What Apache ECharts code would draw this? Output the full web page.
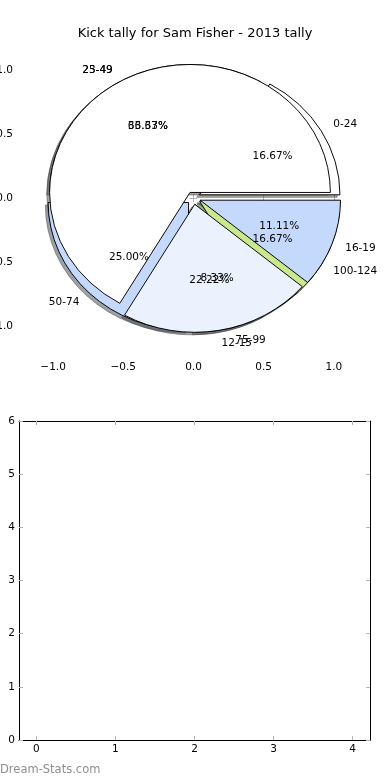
<!DOCTYPE html>
<html><head><meta charset="utf-8">
<script src="https://cdn.jsdelivr.net/npm/echarts@6/dist/echarts.min.js"></script>
<style>html,body{margin:0;padding:0;background:#fff}#c{width:390px;height:780px}</style>
</head><body><div id="c"></div>
<script>
// ---- data ----
const titleText = 'Kick tally for Sam Fisher - 2013 tally';
const pieALabels = ['0-24', '25-49', '50-74', '75-99', '100-124'];
const pieAValues = [2, 4, 3, 1, 2];
const pieBLabels = ['23-49', '12-15', '16-19'];
const pieBValues = [6, 2, 1];
const pieTicks = [-1, -0.5, 0, 0.5, 1];
const barXTicks = [0, 1, 2, 3, 4];
const barYTicks = [0, 1, 2, 3, 4, 5, 6];
const watermarkText = 'Dream-Stats.com';

// ---- styles ----
const pieAColors = ['#ffffff', '#ebf2fe', '#c5d9fd', '#ebf2fe', '#cbe88e'];
const pieBColors = ['#ffffff', '#ebf2fe', '#c5d9fd'];
const EXPLODE = 0.05;
const SHADOW = -0.02;
const FONT = 'DejaVu Sans';
const FS = 10.5;

function buildWedges(labels, values, colors) {
  const total = values.reduce((a, b) => a + b, 0);
  let cum = 0;
  return values.map((v, i) => {
    const t1 = cum / total * 360; cum += v; const t2 = cum / total * 360;
    const mid = (t1 + t2) / 2 * Math.PI / 180;
    return { t1, t2, mid, ox: EXPLODE * Math.cos(mid), oy: EXPLODE * Math.sin(mid),
      color: colors[i], label: labels[i], pct: (v / total * 100).toFixed(2) + '%' };
  });
}
const wedgesA = buildWedges(pieALabels, pieAValues, pieAColors);
const wedgesB = buildWedges(pieBLabels, pieBValues, pieBColors);
const allWedges = wedgesA.concat(wedgesB);

function shadowColor(hex) {
  const r = parseInt(hex.slice(1, 3), 16), g = parseInt(hex.slice(3, 5), 16), b = parseInt(hex.slice(5, 7), 16);
  return 'rgba(' + Math.round(r * 0.3) + ',' + Math.round(g * 0.3) + ',' + Math.round(b * 0.3) + ',0.5)';
}

function sector(w, api, dx, dy, style) {
  const c = api.coord([w.ox + dx, w.oy + dy]);
  const s = api.size([1, 1]);
  return {
    type: 'sector', x: c[0], y: c[1], scaleX: 1, scaleY: s[1] / s[0],
    shape: { cx: 0, cy: 0, r0: 0, r: s[0], startAngle: -w.t1 * Math.PI / 180, endAngle: -w.t2 * Math.PI / 180, clockwise: false },
    style: Object.assign({ strokeNoScale: true }, style)
  };
}

function wedgeSeries(list, z) {
  return {
    type: 'custom', xAxisIndex: 0, yAxisIndex: 0, z: z, silent: true, clip: false,
    data: list.map(() => [0, 0]),
    renderItem: (params, api) => {
      const w = list[params.dataIndex];
      return sector(w, api, 0, 0, { fill: w.color, stroke: '#000', lineWidth: 1 });
    }
  };
}

const chart = echarts.init(document.getElementById('c'), null, { renderer: 'canvas' });

const tickStyle = { show: true, inside: true, length: 4, lineStyle: { color: '#b4b4b4', width: 1 } };
const labelStyle = { color: '#000', fontSize: FS, fontFamily: FONT };
const fmt1 = v => v.toFixed(1).replace('-', '\u2212');

const option = {
  animation: false,
  backgroundColor: '#fff',
  title: { text: titleText, left: 'center', top: 22, textStyle: { fontSize: 13, fontWeight: 'normal', fontFamily: FONT, color: '#000' } },
  graphic: [{ type: 'text', left: 0, top: 764, style: { text: watermarkText, fontSize: 11.5, fontFamily: FONT, fill: '#8e8e8e' } }],
  grid: [
    { left: 18, top: 38, width: 351, height: 320, containLabel: false, outerBoundsMode: 'none' },
    { left: 19, top: 421, width: 351, height: 319, containLabel: false, outerBoundsMode: 'none' }
  ],
  xAxis: [
    { gridIndex: 0, type: 'value', min: -1.25, max: 1.25, position: 'bottom', axisLine: { show: false },
      splitLine: { show: false }, axisTick: Object.assign({ customValues: pieTicks }, tickStyle),
      axisLabel: Object.assign({ customValues: pieTicks, formatter: fmt1, margin: 4 }, labelStyle) },
    { gridIndex: 0, type: 'value', min: -1.25, max: 1.25, position: 'top', axisLine: { show: false },
      splitLine: { show: false }, axisTick: Object.assign({ customValues: pieTicks }, tickStyle), axisLabel: { show: false } },
    { gridIndex: 1, type: 'value', min: -0.22, max: 4.22, position: 'bottom',
      axisLine: { show: true, onZero: false, lineStyle: { color: '#000', width: 1 } },
      splitLine: { show: false }, axisTick: Object.assign({ customValues: barXTicks }, tickStyle),
      axisLabel: Object.assign({ customValues: barXTicks, margin: 4, formatter: v => String(v) }, labelStyle) },
    { gridIndex: 1, type: 'value', min: -0.22, max: 4.22, position: 'top',
      axisLine: { show: true, onZero: false, lineStyle: { color: '#000', width: 1 } },
      splitLine: { show: false }, axisTick: Object.assign({ customValues: barXTicks }, tickStyle), axisLabel: { show: false } }
  ],
  yAxis: [
    { gridIndex: 0, type: 'value', min: -1.25, max: 1.25, position: 'left', axisLine: { show: false },
      splitLine: { show: false }, axisTick: Object.assign({ customValues: pieTicks }, tickStyle),
      axisLabel: Object.assign({ customValues: pieTicks, formatter: fmt1, margin: 5 }, labelStyle) },
    { gridIndex: 0, type: 'value', min: -1.25, max: 1.25, position: 'right', axisLine: { show: false },
      splitLine: { show: false }, axisTick: Object.assign({ customValues: pieTicks }, tickStyle), axisLabel: { show: false } },
    { gridIndex: 1, type: 'value', min: 0, max: 6, interval: 1, position: 'left',
      axisLine: { show: true, onZero: false, lineStyle: { color: '#000', width: 1 } },
      splitLine: { show: false }, axisTick: Object.assign({ customValues: barYTicks }, tickStyle),
      axisLabel: Object.assign({ customValues: barYTicks, margin: 4 }, labelStyle) },
    { gridIndex: 1, type: 'value', min: 0, max: 6, interval: 1, position: 'right',
      axisLine: { show: true, onZero: false, lineStyle: { color: '#000', width: 1 } },
      splitLine: { show: false }, axisTick: Object.assign({ customValues: barYTicks }, tickStyle), axisLabel: { show: false } }
  ],
  series: [
    { // shadows
      type: 'custom', xAxisIndex: 0, yAxisIndex: 0, z: 1, silent: true, clip: false,
      data: allWedges.map(() => [0, 0]),
      renderItem: (params, api) => {
        const w = allWedges[params.dataIndex];
        const sc = shadowColor(w.color);
        return sector(w, api, SHADOW, SHADOW, { fill: sc, stroke: sc, lineWidth: 1 });
      }
    },
    wedgeSeries(wedgesA, 2),
    wedgeSeries(wedgesB, 3),
    { // labels
      type: 'custom', xAxisIndex: 0, yAxisIndex: 0, z: 4, silent: true, clip: false,
      data: allWedges.map(() => [0, 0]),
      renderItem: (params, api) => {
        const w = allWedges[params.dataIndex];
        const lx = w.ox + 1.1 * Math.cos(w.mid), ly = w.oy + 1.1 * Math.sin(w.mid);
        const px = w.ox + 0.6 * Math.cos(w.mid), py = w.oy + 0.6 * Math.sin(w.mid);
        const lp = api.coord([lx, ly]), pp = api.coord([px, py]);
        return { type: 'group', children: [
          { type: 'text', x: lp[0], y: lp[1], style: { text: w.label, fill: '#000', fontSize: FS, fontFamily: FONT,
            align: lx > 0 ? 'left' : 'right', verticalAlign: 'middle' } },
          { type: 'text', x: pp[0], y: pp[1], style: { text: w.pct, fill: '#000', fontSize: FS, fontFamily: FONT,
            align: 'center', verticalAlign: 'middle' } }
        ] };
      }
    }
  ]
};
chart.setOption(option);
</script>
</body></html>
